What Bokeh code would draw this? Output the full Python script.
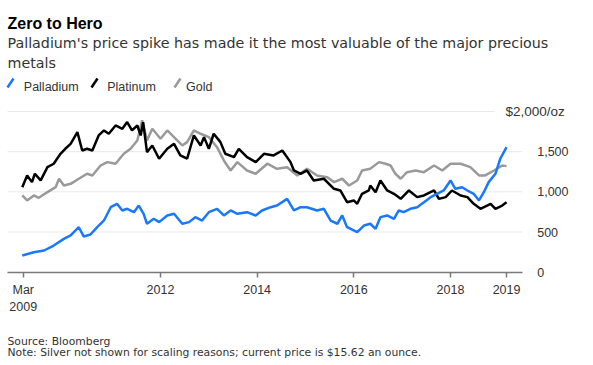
from bokeh.plotting import figure
from bokeh.models import Label, Arrow, FixedTicker, Range1d, NumeralTickFormatter
from bokeh.embed import file_html
from bokeh.resources import INLINE

# ---- data (decimal years, USD per ounce) ----
pd_years = [2009.14, 2009.38, 2009.59, 2009.79, 2010.0, 2010.14, 2010.31, 2010.41, 2010.55, 2010.69,
            2010.83, 2010.97, 2011.10, 2011.21, 2011.31, 2011.45, 2011.55, 2011.65, 2011.72, 2011.86,
            2011.97, 2012.14, 2012.28, 2012.45, 2012.59, 2012.72, 2012.86, 2013.0, 2013.17, 2013.31,
            2013.45, 2013.59, 2013.79, 2013.97, 2014.10, 2014.28, 2014.41, 2014.62, 2014.69, 2014.76,
            2014.90, 2015.03, 2015.24, 2015.38, 2015.52, 2015.66, 2015.76, 2015.86, 2016.07, 2016.21,
            2016.34, 2016.45, 2016.55, 2016.69, 2016.83, 2016.93, 2017.03, 2017.17, 2017.31, 2017.45,
            2017.59, 2017.72, 2017.86, 2018.0, 2018.10, 2018.24, 2018.35, 2018.48, 2018.59, 2018.69,
            2018.79, 2018.93, 2019.03, 2019.16]
pd_values = [208, 249, 270, 332, 415, 457, 560, 445, 469, 560,
             644, 809, 851, 768, 789, 747, 830, 727, 603, 665,
             623, 706, 727, 603, 623, 685, 643, 747, 789, 706,
             768, 727, 747, 706, 768, 809, 830, 913, 840, 768,
             809, 809, 768, 789, 643, 603, 706, 560, 498, 581,
             603, 540, 685, 706, 665, 768, 747, 789, 809, 871,
             934, 976, 1017, 1142, 1038, 1058, 1017, 976, 893, 996,
             1121, 1225, 1412, 1556]

pt_years = [2009.14, 2009.24, 2009.34, 2009.40, 2009.52, 2009.66, 2009.79, 2009.93, 2010.03, 2010.14,
            2010.28, 2010.38, 2010.48, 2010.59, 2010.72, 2010.83, 2010.93, 2011.07, 2011.21, 2011.31,
            2011.41, 2011.52, 2011.59, 2011.64, 2011.72, 2011.83, 2011.97, 2012.14, 2012.28, 2012.41,
            2012.55, 2012.69, 2012.83, 2012.90, 2013.0, 2013.10, 2013.24, 2013.34, 2013.52, 2013.62,
            2013.79, 2013.97, 2014.14, 2014.34, 2014.52, 2014.69, 2014.76, 2014.90, 2015.03, 2015.17,
            2015.38, 2015.59, 2015.72, 2015.86, 2016.0, 2016.07, 2016.17, 2016.31, 2016.34, 2016.45,
            2016.55, 2016.69, 2016.83, 2016.97, 2017.14, 2017.31, 2017.45, 2017.66, 2017.76, 2017.90,
            2018.03, 2018.21, 2018.35, 2018.48, 2018.62, 2018.83, 2018.93, 2019.07, 2019.16]
pt_values = [1058, 1204, 1121, 1225, 1142, 1307, 1350, 1474, 1536, 1598,
             1743, 1515, 1536, 1515, 1702, 1764, 1723, 1826, 1785, 1868,
             1764, 1826, 1702, 1868, 1494, 1577, 1412, 1536, 1598, 1453,
             1412, 1702, 1577, 1681, 1536, 1723, 1619, 1474, 1432, 1536,
             1432, 1370, 1474, 1453, 1515, 1370, 1266, 1225, 1266, 1142,
             1163, 1038, 1017, 871, 893, 851, 976, 1017, 1079, 996,
             1142, 1017, 976, 913, 1017, 934, 955, 1017, 913, 934,
             1017, 955, 934, 851, 789, 851, 789, 830, 871]

au_years = [2009.14, 2009.24, 2009.38, 2009.48, 2009.66, 2009.83, 2009.90, 2010.0, 2010.14, 2010.31,
            2010.48, 2010.59, 2010.76, 2010.90, 2011.07, 2011.24, 2011.38, 2011.52, 2011.62, 2011.72,
            2011.83, 2012.0, 2012.14, 2012.31, 2012.45, 2012.55, 2012.69, 2012.83, 2013.0, 2013.17,
            2013.31, 2013.45, 2013.59, 2013.79, 2013.97, 2014.21, 2014.41, 2014.62, 2014.83, 2015.03,
            2015.24, 2015.45, 2015.59, 2015.76, 2015.90, 2016.07, 2016.17, 2016.34, 2016.52, 2016.66,
            2016.76, 2016.86, 2016.97, 2017.10, 2017.28, 2017.45, 2017.66, 2017.83, 2018.0, 2018.21,
            2018.41, 2018.59, 2018.72, 2018.90, 2019.07, 2019.16]
au_values = [955, 893, 955, 926, 996, 1058, 1163, 1079, 1100, 1163,
             1225, 1204, 1328, 1370, 1350, 1474, 1536, 1640, 1889, 1640,
             1785, 1661, 1764, 1661, 1577, 1619, 1764, 1723, 1681, 1556,
             1391, 1266, 1370, 1266, 1225, 1350, 1287, 1307, 1204, 1287,
             1204, 1183, 1121, 1163, 1079, 1142, 1266, 1287, 1370, 1350,
             1328, 1225, 1163, 1245, 1266, 1245, 1328, 1266, 1350, 1350,
             1307, 1204, 1204, 1266, 1328, 1320]

x_ticks = [2009.16, 2012.0, 2014.0, 2016.0, 2018.0, 2019.16]
x_tick_labels = ["Mar\n2009", "2012", "2014", "2016", "2018", "2019"]
y_ticks = [0, 500, 1000, 1500]
y_grid = [500, 1000, 1500]
y_top = 2000
y_top_label = "$2,000/oz"

FONT = "Liberation Sans"
WIDE = "DejaVu Sans"
TXT = "#333333"

# plot-area bounds (years) and canvas ranges
X_LEFT, X_RIGHT, X_TOPGRID_END = 2008.834, 2019.484, 2018.911

p = figure(width=593, height=365, min_border=0,
           x_range=Range1d(2008.689, 2020.959), y_range=Range1d(-1161.1, 3381.4),
           y_axis_location="right", output_backend="svg", toolbar_location=None)
p.outline_line_color = None
p.background_fill_color = "white"
p.border_fill_color = "white"
p.xgrid.visible = False
p.ygrid.visible = False

# gridlines
p.segment(x0=[X_LEFT] * len(y_grid), y0=y_grid, x1=[X_RIGHT] * len(y_grid), y1=y_grid,
          line_color="#e9e9e9", line_width=1)
p.segment(x0=[X_LEFT], y0=[y_top], x1=[X_TOPGRID_END], y1=[y_top],
          line_color="#e9e9e9", line_width=1)

# x axis, pinned at y=0
xa = p.xaxis[0]
xa.fixed_location = 0
xa.bounds = (X_LEFT, X_RIGHT)
xa.ticker = FixedTicker(ticks=x_ticks)
xa.major_label_overrides = {t: l for t, l in zip(x_ticks, x_tick_labels)}
xa.axis_line_color = "#7a7a7a"
xa.axis_line_width = 1.5
xa.major_tick_line_color = "#7a7a7a"
xa.major_tick_line_width = 1.5
xa.major_tick_in = 0
xa.major_tick_out = 5
xa.minor_tick_line_color = None
xa.major_label_text_font = FONT
xa.major_label_text_font_size = "12.5px"
xa.major_label_text_color = TXT
xa.major_label_standoff = 6

# y axis, pinned at the right edge of the plot area
ya = p.yaxis[0]
ya.fixed_location = X_RIGHT
ya.ticker = FixedTicker(ticks=y_ticks)
ya.formatter = NumeralTickFormatter(format="0,0")
ya.axis_line_color = None
ya.major_tick_line_color = None
ya.minor_tick_line_color = None
ya.major_label_text_font = FONT
ya.major_label_text_font_size = "12.5px"
ya.major_label_text_color = TXT
ya.major_label_standoff = 9

# series
p.line(au_years, au_values, line_color="#9a9a9a", line_width=2.5)
p.line(pt_years, pt_values, line_color="#000000", line_width=2.5)
p.line(pd_years, pd_values, line_color="#1a78ff", line_width=2.5)


def lab(x, y, text, size, color=TXT, style="normal", baseline="alphabetic", font=FONT):
    p.add_layout(Label(x=x, y=y, x_units="screen", y_units="screen", text=text,
                       text_font=font, text_font_size=size, text_color=color,
                       text_font_style=style, text_baseline=baseline, text_align="left"))


lab(505, 254, y_top_label, "13.5px", baseline="middle")

# titles
lab(7, 341.7, "Zero to Hero", "16px", "#000000", "bold")
lab(7, 322.5, "Palladium's price spike has made it the most valuable of the major precious", "14.25px", font=WIDE)
lab(7, 302.5, "metals", "14.25px", font=WIDE)

# legend
legend_names = ["Palladium", "Platinum", "Gold"]
legend_colors = ["#1a78ff", "#000000", "#9a9a9a"]
legend_icon_x = [7, 91, 174]
legend_text_x = [23.3, 106.7, 185.5]
for name, col, ix, tx in zip(legend_names, legend_colors, legend_icon_x, legend_text_x):
    p.add_layout(Arrow(end=None, x_start=ix, y_start=278, x_end=ix + 6, y_end=287,
                       start_units="screen", end_units="screen",
                       line_color=col, line_width=2.5))
    lab(tx, 279, name, "12.5px")

# notes
lab(7, 24.3, "Source: Bloomberg", "10.8px", font=WIDE)
lab(7, 13.3, "Note: Silver not shown for scaling reasons; current price is $15.62 an ounce.", "10.8px", font=WIDE)

open("out.html", "w").write(file_html(p, INLINE))
